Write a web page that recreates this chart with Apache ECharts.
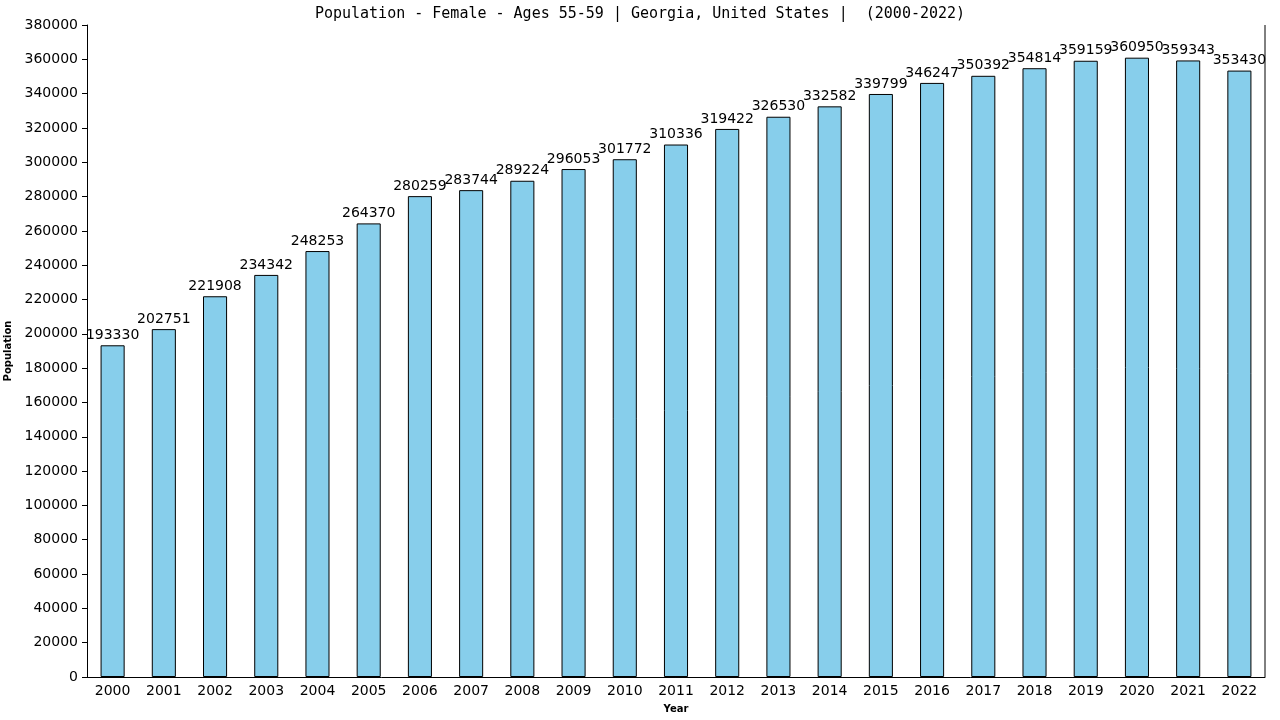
<!DOCTYPE html>
<html>
<head>
<meta charset="utf-8">
<script src="https://cdn.jsdelivr.net/npm/echarts@6/dist/echarts.min.js"></script>
<style>
  html, body { margin: 0; padding: 0; background: #fff; }
  #chart { width: 1280px; height: 720px; }
</style>
</head>
<body>
<div id="chart"></div>
<script>
// data
const years = ['2000','2001','2002','2003','2004','2005','2006','2007','2008','2009','2010','2011',
  '2012','2013','2014','2015','2016','2017','2018','2019','2020','2021','2022'];
const population = [193330,202751,221908,234342,248253,264370,280259,283744,289224,296053,301772,310336,
  319422,326530,332582,339799,346247,350392,354814,359159,360950,359343,353430];

const font = 'DejaVu Sans';
let myChart = echarts.init(document.getElementById('chart'));
let option = {
  animation: false,
  title: {
    text: 'Population - Female - Ages 55-59 | Georgia, United States |  (2000-2022)',
    left: 'center',
    top: 2,
    textStyle: { fontFamily: 'DejaVu Sans Mono', fontSize: 15, fontWeight: 'normal', color: '#000' }
  },
  grid: { left: 87, right: 15, top: 25, bottom: 43, containLabel: false, outerBoundsMode: 'none' },
  xAxis: {
    type: 'category',
    data: years,
    name: 'Year',
    nameLocation: 'middle',
    nameGap: 27,
    nameTextStyle: { fontFamily: font, fontSize: 10, fontWeight: 'bold', color: '#000' },
    axisLine: { lineStyle: { color: '#000' } },
    axisTick: { show: false },
    axisLabel: { fontFamily: font, fontSize: 14, color: '#000', margin: 7 }
  },
  yAxis: {
    type: 'value',
    min: 0,
    max: 380000,
    interval: 20000,
    name: 'Population',
    nameLocation: 'middle',
    nameGap: 71,
    nameTextStyle: { fontFamily: font, fontSize: 10, fontWeight: 'bold', color: '#000' },
    axisLine: { show: true, lineStyle: { color: '#000' } },
    axisTick: { show: true, length: 5, lineStyle: { color: '#000' } },
    axisLabel: { fontFamily: font, fontSize: 14, color: '#000', margin: 9, formatter: v => String(v) },
    splitLine: { show: false }
  },
  series: [{
    type: 'bar',
    data: population,
    barWidth: '47%',
    itemStyle: { color: '#87CEEB', borderColor: '#000', borderWidth: 1 },
    label: {
      show: true,
      position: 'top',
      distance: 3,
      fontFamily: font,
      fontSize: 14,
      color: '#000'
    }
  }]
};
myChart.setOption(option);
// right frame line
myChart.setOption({
  graphic: [{
    type: 'line',
    shape: { x1: 1265, y1: 25, x2: 1265, y2: 677 },
    style: { stroke: '#000', lineWidth: 1 }
  }]
});
</script>
</body>
</html>
